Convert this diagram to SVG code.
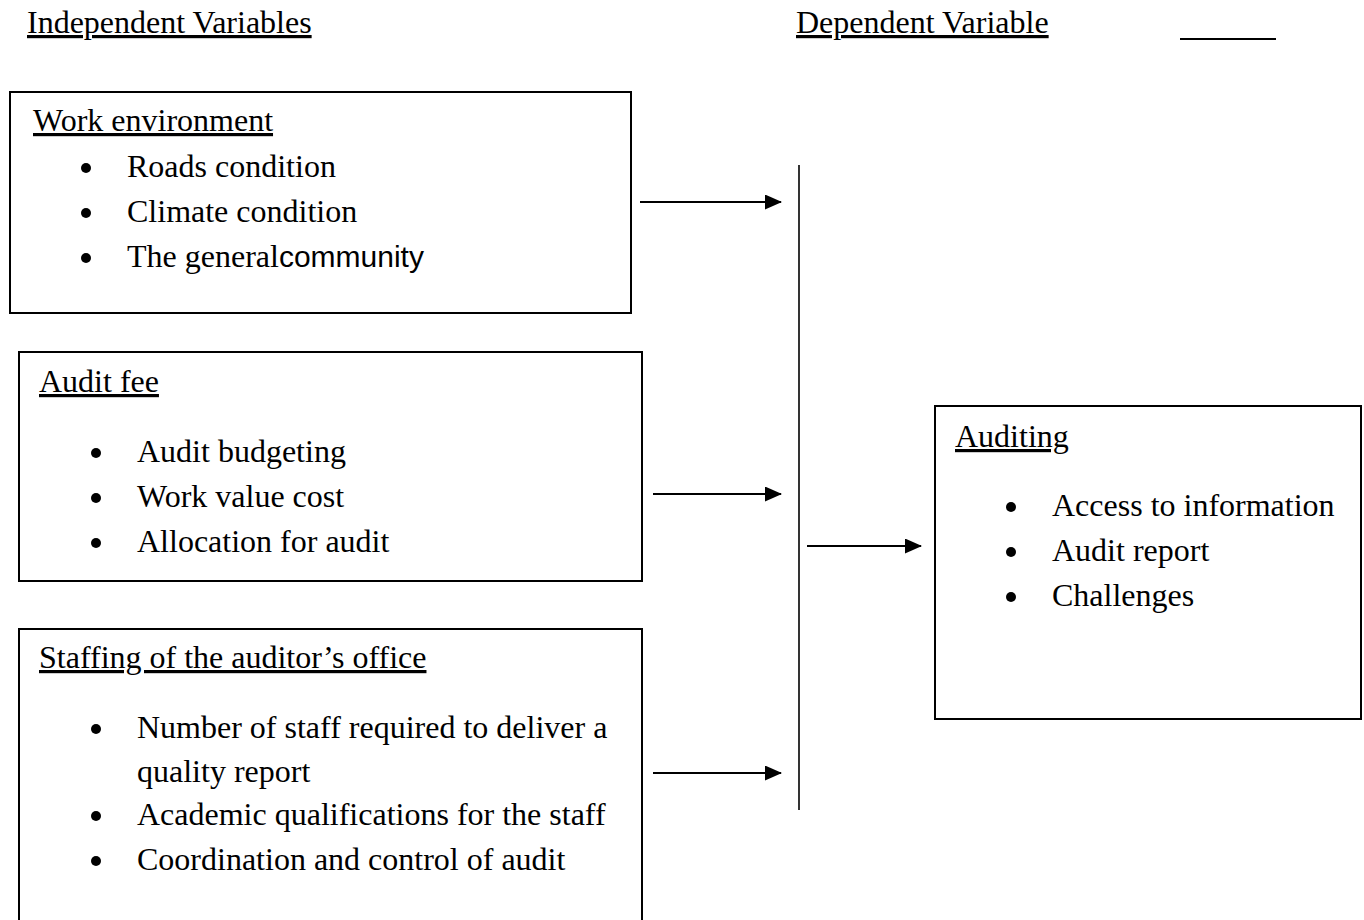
<svg xmlns="http://www.w3.org/2000/svg" width="1364" height="920" viewBox="0 0 1364 920">
  <style>
    text { font-family: "Liberation Serif", "Times New Roman", serif; font-size: 32px; fill: #000; }
    .ul { text-decoration: underline; }
    .sans { font-family: "Liberation Sans", Arial, sans-serif; font-size: 30px; }
    .box { fill: none; stroke: #000; stroke-width: 2; }
    .dot { fill: #000; }
    .conn { stroke: #000; stroke-width: 2; fill: none; }
    .bar { stroke: #000; stroke-width: 1.6; fill: none; }
  </style>
  <defs>
    <marker id="arrow" markerUnits="userSpaceOnUse" markerWidth="17" markerHeight="15" refX="16" refY="7.5" orient="auto">
      <path d="M0,0 L17,7.5 L0,15 z" fill="#000"/>
    </marker>
  </defs>

  <rect width="1364" height="920" fill="#fff"/>

  <!-- column titles -->
  <g id="titles">
    <text class="ul" x="27" y="33">Independent Variables</text>
    <text class="ul" x="796" y="33">Dependent Variable</text>
    <line x1="1180" y1="39" x2="1276" y2="39" stroke="#000" stroke-width="2"/>
  </g>

  <!-- independent variable: work environment -->
  <g id="work-environment">
    <rect class="box" x="10" y="92" width="621" height="221"/>
    <text class="ul" x="33" y="131">Work environment</text>
    <circle class="dot" cx="86" cy="168" r="5"/>
    <text x="127" y="177">Roads condition</text>
    <circle class="dot" cx="86" cy="213" r="5"/>
    <text x="127" y="222">Climate condition</text>
    <circle class="dot" cx="86" cy="258" r="5"/>
    <text x="127" y="267">The general<tspan class="sans">community</tspan></text>
  </g>

  <!-- independent variable: audit fee -->
  <g id="audit-fee">
    <rect class="box" x="19" y="352" width="623" height="229"/>
    <text class="ul" x="39" y="392">Audit fee</text>
    <circle class="dot" cx="96" cy="453" r="5"/>
    <text x="137" y="462">Audit budgeting</text>
    <circle class="dot" cx="96" cy="498" r="5"/>
    <text x="137" y="507">Work value cost</text>
    <circle class="dot" cx="96" cy="543" r="5"/>
    <text x="137" y="552">Allocation for audit</text>
  </g>

  <!-- independent variable: staffing -->
  <g id="staffing">
    <rect class="box" x="19" y="629" width="623" height="300"/>
    <text class="ul" x="39" y="668">Staffing of the auditor’s office</text>
    <circle class="dot" cx="96" cy="729" r="5"/>
    <text x="137" y="738">Number of staff required to deliver a</text>
    <text x="137" y="782">quality report</text>
    <circle class="dot" cx="96" cy="816" r="5"/>
    <text x="137" y="825">Academic qualifications for the staff</text>
    <circle class="dot" cx="96" cy="861" r="5"/>
    <text x="137" y="870">Coordination and control of audit</text>
  </g>

  <!-- dependent variable: auditing -->
  <g id="auditing">
    <rect class="box" x="935" y="406" width="426" height="313"/>
    <text class="ul" x="955" y="447">Auditing</text>
    <circle class="dot" cx="1011" cy="507" r="5"/>
    <text x="1052" y="516">Access to information</text>
    <circle class="dot" cx="1011" cy="552" r="5"/>
    <text x="1052" y="561">Audit report</text>
    <circle class="dot" cx="1011" cy="597" r="5"/>
    <text x="1052" y="606">Challenges</text>
  </g>

  <!-- connectors -->
  <g id="connectors">
    <line class="bar" x1="799" y1="165" x2="799" y2="810"/>
    <line class="conn" x1="640" y1="202" x2="781" y2="202" marker-end="url(#arrow)"/>
    <line class="conn" x1="653" y1="494" x2="781" y2="494" marker-end="url(#arrow)"/>
    <line class="conn" x1="653" y1="773" x2="781" y2="773" marker-end="url(#arrow)"/>
    <line class="conn" x1="807" y1="546" x2="921" y2="546" marker-end="url(#arrow)"/>
  </g>
</svg>
